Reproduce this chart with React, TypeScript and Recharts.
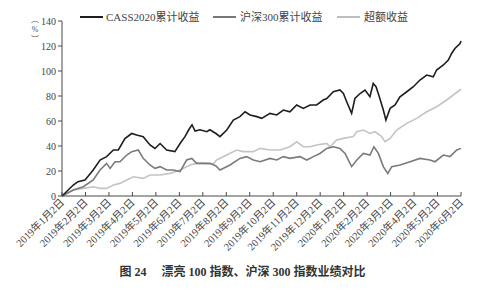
import React from "react";
import { LineChart, Line, XAxis, YAxis } from "recharts";

// x positions are in months since 2019-01-02 (0 = 2019年1月2日, 17 = 2020年6月2日)
const tickLabels = [
  "2019年1月2日", "2019年2月2日", "2019年3月2日", "2019年4月2日", "2019年5月2日",
  "2019年6月2日", "2019年7月2日", "2019年8月2日", "2019年9月2日", "2019年10月2日",
  "2019年11月2日", "2019年12月2日", "2020年1月2日", "2020年2月2日", "2020年3月2日",
  "2020年4月2日", "2020年5月2日", "2020年6月2日",
];
const yTicks = [0, 20, 40, 60, 80, 100, 120, 140];

const cassMonths = [0, 0.48, 0.68, 0.98, 1.33, 1.62, 1.9, 2.19, 2.4, 2.68, 2.97, 3.18, 3.46, 3.75, 3.96, 4.18, 4.46, 4.81, 5.03, 5.24, 5.4, 5.54, 5.67, 5.88, 6.17, 6.3, 6.56, 6.73, 7.02, 7.3, 7.58, 7.8, 8.01, 8.3, 8.51, 8.86, 9.15, 9.43, 9.71, 10.0, 10.28, 10.57, 10.85, 11.13, 11.28, 11.56, 11.84, 11.99, 12.13, 12.34, 12.48, 12.7, 12.91, 13.12, 13.26, 13.38, 13.52, 13.69, 13.8, 13.98, 14.19, 14.4, 14.69, 14.97, 15.25, 15.54, 15.82, 15.96, 16.25, 16.46, 16.6, 16.74, 16.96, 17.0];
const cassValues = [0, 8.8, 11.5, 12.8, 20.8, 28.8, 31.5, 36.8, 36.8, 46, 50, 48.8, 47.5, 40.8, 38, 42, 36.8, 35.5, 42, 47.5, 53, 57, 52, 53, 51.4, 53, 50, 47.5, 52.8, 60.8, 63.5, 67.4, 64.8, 63.5, 62.1, 66.1, 64.8, 68.8, 67.4, 72.8, 70.1, 72.8, 72.8, 76.8, 78, 83.4, 84.8, 82, 75.4, 66.1, 78, 82, 84.8, 79.4, 90, 87.4, 79.4, 68.8, 60.8, 70.1, 72.8, 79.4, 83.4, 87.4, 92.8, 96.8, 95.4, 100.8, 104.8, 108.8, 114, 118, 122, 124];

const hs300Months = [0, 0.48, 0.91, 1.33, 1.62, 1.9, 2.05, 2.26, 2.47, 2.76, 2.97, 3.25, 3.46, 3.75, 3.96, 4.18, 4.46, 4.74, 5.03, 5.31, 5.53, 5.74, 6.02, 6.31, 6.56, 6.73, 7.16, 7.58, 7.87, 8.15, 8.44, 8.86, 9.15, 9.43, 9.71, 10.14, 10.43, 10.71, 10.99, 11.28, 11.56, 11.84, 12.06, 12.34, 12.56, 12.84, 13.12, 13.29, 13.48, 13.69, 13.88, 14.05, 14.4, 14.83, 15.25, 15.68, 15.89, 16.25, 16.53, 16.82, 17.0];
const hs300Values = [0, 4.8, 7.4, 12.8, 20.8, 26.1, 22.1, 27.4, 27.4, 32.8, 35.5, 36.8, 30.1, 24.8, 22.1, 23.5, 20.8, 20.8, 19.5, 28.8, 30.1, 26.1, 26.1, 26.1, 24, 20.8, 24.8, 30.1, 31.5, 28.8, 27.4, 30.1, 28.8, 31.5, 30.1, 31.5, 28.8, 31.5, 34, 38.1, 39.4, 38.1, 34.1, 23.5, 28.8, 34.1, 32.8, 39.4, 34.1, 23.5, 18.1, 23.5, 24.8, 27.4, 30.1, 28.8, 27.4, 32.8, 31.5, 36.8, 38.1];

const excessMonths = [0, 0.48, 0.91, 1.33, 1.62, 1.9, 2.19, 2.47, 2.76, 3.04, 3.46, 3.75, 4.18, 4.6, 5.03, 5.45, 5.74, 6.02, 6.43, 6.59, 7.02, 7.44, 7.72, 8.15, 8.44, 8.86, 9.29, 9.71, 10.0, 10.28, 10.57, 10.85, 11.28, 11.42, 11.7, 11.99, 12.41, 12.56, 12.84, 13.12, 13.34, 13.62, 13.76, 13.98, 14.26, 14.69, 15.11, 15.54, 15.96, 16.39, 16.67, 17.0];
const excessValues = [0, 4.8, 6.1, 7.4, 6.1, 6.1, 8.8, 10.1, 12.8, 15.4, 14.1, 16.8, 16.8, 18.1, 20.8, 24.8, 26.1, 26.1, 25.5, 28.8, 32.8, 36.8, 35.5, 35.5, 38.1, 36.8, 36.8, 39.4, 43.4, 39.4, 39.4, 40.8, 42.1, 39.4, 44.8, 46.1, 47.5, 51.4, 52.8, 50, 51.4, 47.5, 43.4, 46.1, 52.8, 58.1, 62.1, 67.4, 71.4, 76.8, 80.8, 85.4];

const toRows = (ms: number[], vs: number[]) => ms.map((m, i) => ({ m, v: vs[i] }));
const cassData = toRows(cassMonths, cassValues);
const hs300Data = toRows(hs300Months, hs300Values);
const excessData = toRows(excessMonths, excessValues);

const FONT = '"Liberation Serif", "Noto Sans CJK SC", serif';
const AXIS = "#4a4a4a";

const XTick = (props: any) => {
  const { x, y, payload } = props;
  const label = tickLabels[payload.value] ?? "";
  return (
    <g>
      <line x1={x} y1={y - 4} x2={x} y2={y} stroke={AXIS} strokeWidth={1} />
      <text
        x={x + 3}
        y={y + 7}
        textAnchor="end"
        fontSize={10.5}
        fill="#444"
        fontFamily={FONT}
        transform={`rotate(-45, ${x + 3}, ${y + 7})`}
      >
        {label}
      </text>
    </g>
  );
};

const legendItems = [
  { name: "CASS2020累计收益", color: "#1e1e1e", lineX: 80, textX: 106 },
  { name: "沪深300累计收益", color: "#777777", lineX: 213, textX: 240 },
  { name: "超额收益", color: "#bdbdbd", lineX: 337, textX: 364 },
];

export default function App() {
  return (
    <div style={{ position: "absolute", left: 0, top: 0, width: 499, height: 290, background: "#fff", fontFamily: FONT }}>
      <LineChart width={499} height={290} margin={{ top: 21, right: 38, bottom: 34, left: 22 }}>
        <XAxis
          dataKey="m"
          type="number"
          domain={[0, 17]}
          ticks={tickLabels.map((_, i) => i)}
          interval={0}
          height={60}
          tickSize={0}
          tickMargin={0}
          tickLine={false}
          axisLine={{ stroke: AXIS, strokeWidth: 1 }}
          tick={<XTick />}
        />
        <YAxis
          type="number"
          domain={[0, 140]}
          ticks={yTicks}
          interval={0}
          width={40}
          tickSize={4}
          tickMargin={2}
          axisLine={{ stroke: AXIS, strokeWidth: 1 }}
          tickLine={{ stroke: AXIS }}
          tick={{ fontSize: 10, fill: "#444", fontFamily: FONT }}
        />
        <Line data={excessData} dataKey="v" stroke="#c4c4c4" strokeWidth={1.6} dot={false} isAnimationActive={false} />
        <Line data={hs300Data} dataKey="v" stroke="#7a7a7a" strokeWidth={1.6} dot={false} isAnimationActive={false} />
        <Line data={cassData} dataKey="v" stroke="#1e1e1e" strokeWidth={1.6} dot={false} isAnimationActive={false} />
      </LineChart>
      {legendItems.map((it) => (
        <React.Fragment key={it.name}>
          <div style={{ position: "absolute", left: it.lineX, top: 16, width: 23, height: 2, background: it.color }} />
          <div style={{ position: "absolute", left: it.textX, top: 9, fontSize: 11, lineHeight: "16px", color: "#444", whiteSpace: "nowrap" }}>
            {it.name}
          </div>
        </React.Fragment>
      ))}
      <div style={{ position: "absolute", left: 29, top: 15, width: 12, fontSize: 8, lineHeight: "10px", color: "#555", textAlign: "center" }}>
        <div style={{ height: 10, overflow: "hidden" }}>︵</div>
        <div style={{ height: 10, overflow: "hidden" }}>%</div>
        <div style={{ height: 10, overflow: "hidden" }}>︶</div>
      </div>
      <div style={{ position: "absolute", left: 0, top: 262, width: 485, textAlign: "center", fontSize: 12, fontWeight: "bold", color: "#333", whiteSpace: "pre" }}>
        {"图 24　 漂亮 100 指数、沪深 300 指数业绩对比"}
      </div>
    </div>
  );
}
